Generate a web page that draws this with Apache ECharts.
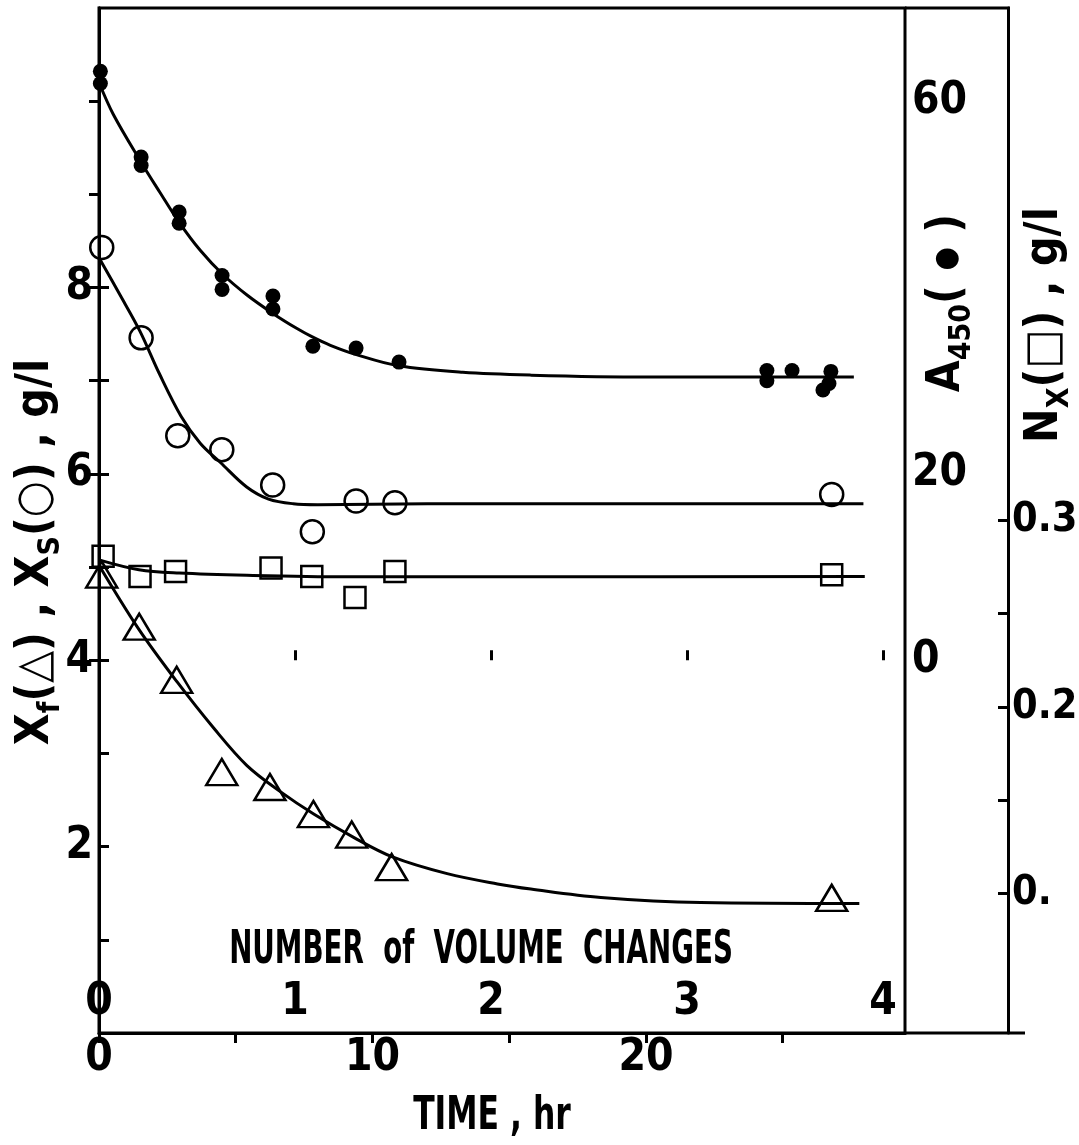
<!DOCTYPE html>
<html>
<head>
<meta charset="utf-8">
<script src="https://cdn.jsdelivr.net/npm/echarts@6/dist/echarts.min.js"></script>
<style>html,body{margin:0;padding:0;background:#fff;}#c{width:1079px;height:1145px;}</style>
</head>
<body>
<div id="c"></div>
<script>
// ---- data (time in hr) ----
// A450 (filled circles), right inner axis
const a450Time = [0.05, 0.05, 1.54, 1.54, 2.93, 2.93, 4.50, 4.50, 6.36, 6.36, 7.82, 9.40, 10.97, 24.42, 24.42, 25.34, 26.47, 26.69, 26.76];
const a450Vals = [63.2, 61.9, 54.0, 53.1, 48.1, 46.9, 41.3, 39.8, 39.1, 37.7, 33.7, 33.5, 32.0, 31.1, 30.0, 31.1, 29.0, 29.7, 31.0];
const a450CurveTime = [0, 0.52, 1.55, 2.23, 2.93, 3.7, 4.53, 5.41, 6.37, 7.24, 7.8, 8.46, 9.41, 10.95, 13.3, 15.8, 20, 27.6];
const a450CurveVals = [62.0, 58.6, 53.4, 50.2, 47.0, 44.0, 41.4, 39.2, 37.2, 35.6, 34.7, 33.8, 32.8, 31.6, 30.9, 30.6, 30.4, 30.4];
// Xs (open circles), left axis g/l
const xsTime = [0.1, 1.54, 2.88, 4.49, 6.35, 7.80, 9.40, 10.82, 26.79];
const xsVals = [8.43, 7.46, 6.41, 6.26, 5.88, 5.38, 5.71, 5.69, 5.78];
const xsCurveTime = [0, 0.75, 1.5, 2.2, 3.0, 3.7, 4.45, 5.4, 6.2, 7.1, 8, 12, 27.95];
const xsCurveVals = [8.32, 7.93, 7.53, 7.08, 6.62, 6.33, 6.12, 5.86, 5.73, 5.68, 5.67, 5.68, 5.68];
// Nx (open squares), outer right axis g/l
const nxTime = [0.15, 1.50, 2.80, 6.29, 7.78, 9.36, 10.82, 26.79];
const nxVals = [0.2808, 0.2700, 0.2727, 0.2745, 0.2700, 0.2587, 0.2727, 0.2709];
const nxCurveTime = [0, 1.46, 2.93, 5.41, 9.05, 15.8, 28.0];
const nxCurveVals = [0.2789, 0.2736, 0.2718, 0.2706, 0.2698, 0.2698, 0.2700];
// Xf (open triangles), left axis g/l
const xfTime = [0.1, 1.47, 2.84, 4.49, 6.25, 7.84, 9.24, 10.70, 26.79];
const xfVals = [4.92, 4.36, 3.79, 2.80, 2.64, 2.35, 2.13, 1.78, 1.45];
const xfCurveTime = [0, 1.44, 2.85, 4.2, 5.41, 6.63, 7.85, 9.31, 10.73, 12.73, 14.57, 15.79, 18.35, 22, 27.8];
const xfCurveVals = [5.02, 4.34, 3.77, 3.27, 2.87, 2.59, 2.35, 2.10, 1.89, 1.71, 1.60, 1.545, 1.455, 1.40, 1.39];

// ---- axis ticks / labels ----
const timeTicks = [0, 5, 10, 15, 20, 25];
const timeLabels = [0, 10, 20];
const volTicks = [0, 1, 2, 3, 4];
const volLabels = [0, 1, 2, 3, 4];
const leftTicks = [1, 2, 3, 4, 5, 6, 7, 8];
const leftLabels = [2, 4, 6, 8];
const a450Ticks = [0, 10, 20, 30, 40, 50, 60];
const a450Labels = [0, 20, 60];
const nxTicks = [0.1, 0.15, 0.2, 0.25, 0.3];
const nxLabels = [0.1, 0.2, 0.3];

const F = '"DejaVu Sans Condensed","Liberation Sans Narrow","DejaVu Sans",sans-serif';
const zip = (a, b) => a.map((v, i) => [v, b[i]]);
const lab = (margin, extra) => Object.assign({color: '#000', fontFamily: F, fontWeight: 'bold', fontSize: 44, margin: margin}, extra || {});
const line = {lineStyle: {color: '#000', width: 3}};
const tick = (vals, inside) => ({show: true, inside: inside, length: 10, lineStyle: {color: '#000', width: 3}, customValues: vals});

const chart = echarts.init(document.getElementById('c'), null, {renderer: 'canvas'});
const rich = {
  b: {fontFamily: F, fontWeight: 'bold', fontSize: 46, lineHeight: 60, verticalAlign: 'middle', color: '#000'},
  s: {fontFamily: F, fontWeight: 'bold', fontSize: 30, lineHeight: 30, verticalAlign: 'bottom', color: '#000'},
  d: {fontFamily: F, fontWeight: 'bold', fontSize: 30, lineHeight: 60, verticalAlign: 'middle', color: '#000'}
};
const fit = {type: 'line', showSymbol: false, smooth: 0.35, lineStyle: {color: '#000', width: 3}, z: 2};
const hollow = {color: 'rgba(0,0,0,0)', borderColor: '#000', borderWidth: 2.5, opacity: 1};
chart.setOption({
  animation: false,
  backgroundColor: '#fff',
  grid: {left: 99, right: 174, top: 8, bottom: 112, outerBoundsMode: 'none', containLabel: false, show: true, borderColor: '#000', borderWidth: 3, backgroundColor: 'transparent'},
  xAxis: [
    {type: 'value', min: 0, max: 29.47, position: 'bottom',
     axisLine: line, splitLine: {show: false},
     axisTick: tick(timeTicks, false),
     axisLabel: lab(4, {customValues: timeLabels})},
    {type: 'value', min: 0, max: 4.112, position: 'bottom',
     axisLine: {show: false}, splitLine: {show: false},
     axisTick: tick(volTicks, true),
     axisLabel: lab(8, {inside: true, customValues: volLabels})}
  ],
  yAxis: [
    {type: 'value', min: 0, max: 11, position: 'left',
     axisLine: line, splitLine: {show: false},
     axisTick: tick(leftTicks, true),
     axisLabel: lab(6, {customValues: leftLabels})},
    {type: 'value', min: -40, max: 70, position: 'right', offset: 0,
     axisLine: line, splitLine: {show: false},
     axisTick: tick(a450Ticks, true),
     axisLabel: lab(7, {customValues: a450Labels})},
    {type: 'value', min: 0.025, max: 0.575, position: 'right', offset: 103,
     axisLine: line, splitLine: {show: false},
     axisTick: tick(nxTicks, true),
     axisLabel: lab(4, {fontSize: 41, customValues: nxLabels, formatter: v => (Math.abs(v - 0.1) < 1e-6 ? '0.' : v.toFixed(1))})}
  ],
  series: [
    Object.assign({name: 'A450 fit', yAxisIndex: 1, data: zip(a450CurveTime, a450CurveVals)}, fit),
    {name: 'A450', type: 'scatter', yAxisIndex: 1, data: zip(a450Time, a450Vals), symbol: 'circle', symbolSize: 15, itemStyle: {color: '#000', opacity: 1}},
    Object.assign({name: 'Xs fit', yAxisIndex: 0, data: zip(xsCurveTime, xsCurveVals)}, fit),
    {name: 'Xs', type: 'scatter', yAxisIndex: 0, data: zip(xsTime, xsVals), symbol: 'circle', symbolSize: 23, itemStyle: hollow},
    Object.assign({name: 'Nx fit', yAxisIndex: 2, data: zip(nxCurveTime, nxCurveVals)}, fit),
    {name: 'Nx', type: 'scatter', yAxisIndex: 2, data: zip(nxTime, nxVals), symbol: 'rect', symbolSize: 21, itemStyle: hollow},
    Object.assign({name: 'Xf fit', yAxisIndex: 0, data: zip(xfCurveTime, xfCurveVals)}, fit),
    {name: 'Xf', type: 'scatter', yAxisIndex: 0, data: zip(xfTime, xfVals), symbol: 'triangle', symbolSize: [31, 26], itemStyle: hollow}
  ],
  graphic: [
    // frame extensions to the outer right axis
    {type: 'line', shape: {x1: 905, y1: 8, x2: 1010, y2: 8}, style: {stroke: '#000', lineWidth: 3}},
    {type: 'line', shape: {x1: 905, y1: 1033, x2: 1025, y2: 1033}, style: {stroke: '#000', lineWidth: 3}},
    {type: 'text', x: 481, y: 951, scaleX: 0.67, style: {text: 'NUMBER  of  VOLUME  CHANGES', fontFamily: F, fontWeight: 'bold', fontSize: 46, fill: '#000', align: 'center', verticalAlign: 'middle'}},
    {type: 'text', x: 492, y: 1117, scaleX: 0.76, style: {text: 'TIME , hr', fontFamily: F, fontWeight: 'bold', fontSize: 46, fill: '#000', align: 'center', verticalAlign: 'middle'}},
    {type: 'text', x: 36, y: 552, rotation: Math.PI / 2, scaleX: 1.0, style: {text: '{b|X}{s|f}{b|(△) , X}{s|S}{b|(○) , g/l}', rich: rich, align: 'center', verticalAlign: 'middle'}},
    {type: 'text', x: 947, y: 303, rotation: Math.PI / 2, scaleX: 1.0, style: {text: '{b|A}{s|450}{b|( }{d|●}{b| )}', rich: rich, align: 'center', verticalAlign: 'middle'}},
    {type: 'text', x: 1045, y: 325, rotation: Math.PI / 2, scaleX: 1.0, style: {text: '{b|N}{s|X}{b|(□) , g/l}', rich: rich, align: 'center', verticalAlign: 'middle'}}
  ]
});
</script>
</body>
</html>
